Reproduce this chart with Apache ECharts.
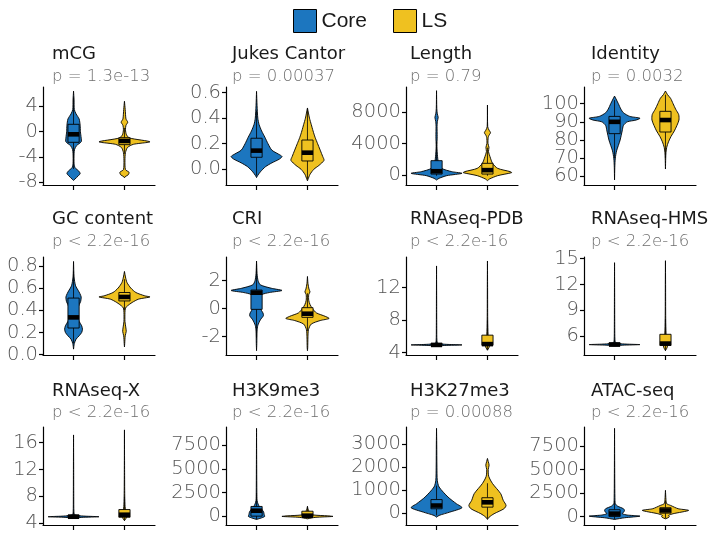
<!DOCTYPE html>
<html>
<head>
<meta charset="utf-8">
<script src="https://cdn.jsdelivr.net/npm/echarts@6/dist/echarts.min.js"></script>
<style>
  html, body { margin: 0; padding: 0; background: #fff; }
  #chart { width: 721px; height: 537px; }
</style>
</head>
<body>
<div id="chart"></div>
<script>
// panel titles and test results, row by row
const panelNames = ['mCG', 'Jukes Cantor', 'Length', 'Identity',
                    'GC content', 'CRI', 'RNAseq-PDB', 'RNAseq-HMS',
                    'RNAseq-X', 'H3K9me3', 'H3K27me3', 'ATAC-seq'];
const pLabels = ['p = 1.3e-13', 'p = 0.00037', 'p = 0.79', 'p = 0.0032',
                 'p < 2.2e-16', 'p < 2.2e-16', 'p < 2.2e-16', 'p < 2.2e-16',
                 'p < 2.2e-16', 'p < 2.2e-16', 'p = 0.00088', 'p < 2.2e-16'];
const groups = ['Core', 'LS'];

// y extents and tick labels
const yLimits = [[-8.42, 7.05], [-0.123, 0.644], [-1277, 11234], [55.2, 109.2],
                 [-0.003, 0.88], [-3.31, 3.69], [3.71, 15.76], [3.79, 15.2],
                 [3.75, 18.33], [-900, 9400], [-516, 3745], [-910, 9523]];
const yTicks = [[-8, -4, 0, 4], [0, 0.2, 0.4, 0.6], [0, 4000, 8000], [60, 70, 80, 90, 100],
                [0, 0.2, 0.4, 0.6, 0.8], [-2, 0, 2], [4, 8, 12], [6, 9, 12, 15],
                [4, 8, 12, 16], [0, 2500, 5000, 7500], [0, 1000, 2000, 3000], [0, 2500, 5000, 7500]];
const tickDecimals = [0, 1, 0, 0, 1, 0, 0, 0, 0, 0, 0, 0];

// violin outlines: [value, relative density]
const mcgCore = [[-7.7,0],[-7.5,0.05],[-7.0,0.18],[-6.6,0.26],[-6.2,0.2],[-5.7,0.06],[-5.0,0.02],[-3.5,0.02],[-2.8,0.04],[-2.2,0.12],[-1.6,0.3],[-1.0,0.3],[0,0.27],[1.0,0.26],[2.0,0.22],[2.8,0.1],[3.5,0.03],[5.0,0.02],[6.4,0]];
const mcgLS = [[-7.3,0],[-7.1,0.03],[-6.8,0.15],[-6.4,0.18],[-6.0,0.04],[-4.5,0.02],[-3.3,0.04],[-2.5,0.12],[-2.0,0.35],[-1.6,1.0],[-1.0,0.2],[-0.5,0.08],[0.3,0.04],[1.0,0.06],[1.5,0.13],[2.0,0.06],[3.5,0.03],[4.8,0]];
const jukesCore = [[-0.065,0],[-0.05,0.04],[-0.02,0.15],[0.02,0.35],[0.05,0.6],[0.08,0.9],[0.1,1.0],[0.12,0.85],[0.15,0.6],[0.2,0.45],[0.25,0.33],[0.3,0.2],[0.35,0.1],[0.4,0.05],[0.5,0.02],[0.61,0]];
const jukesLS = [[-0.09,0],[-0.08,0.02],[-0.04,0.1],[0,0.25],[0.03,0.45],[0.07,0.65],[0.1,0.6],[0.2,0.4],[0.25,0.3],[0.3,0.22],[0.35,0.15],[0.4,0.08],[0.48,0]];
const lengthCore = [[-640,0],[-425,0.1],[-85,0.4],[213,1.0],[425,0.6],[851,0.2],[1489,0.08],[2340,0.04],[3617,0.015],[4900,0.025],[6170,0.02],[6800,0.03],[7360,0.065],[7800,0.03],[8500,0.01],[10766,0]];
const lengthLS = [[-720,0],[-510,0.08],[-85,0.4],[298,0.95],[425,0.9],[851,0.4],[1489,0.2],[2340,0.1],[2979,0.04],[3532,0.06],[4042,0.02],[4800,0.03],[5063,0.06],[5404,0.12],[5744,0.06],[6170,0.01],[8935,0]];
const identityCore = [[58,0],[65,0.01],[70,0.03],[74,0.08],[77,0.15],[80,0.22],[85,0.3],[88,0.35],[90,0.5],[91,0.85],[92,1.0],[93,0.6],[95,0.35],[97,0.25],[100,0.15],[102,0.08],[104.2,0]];
const identityLS = [[64,0],[70,0.01],[73,0.02],[76,0.05],[79,0.12],[82,0.22],[85,0.35],[88,0.45],[91,0.53],[94,0.52],[97,0.4],[100,0.3],[103,0.2],[105,0.08],[107,0]];
const gcCore = [[0.05,0],[0.1,0.03],[0.14,0.1],[0.17,0.22],[0.2,0.32],[0.23,0.35],[0.26,0.32],[0.3,0.22],[0.35,0.15],[0.4,0.15],[0.45,0.22],[0.48,0.28],[0.52,0.3],[0.55,0.25],[0.58,0.18],[0.62,0.08],[0.7,0.02],[0.84,0]];
const gcLS = [[0.07,0],[0.1,0.01],[0.17,0.03],[0.21,0.07],[0.25,0.05],[0.3,0.02],[0.38,0.02],[0.42,0.04],[0.44,0.12],[0.47,0.3],[0.5,0.55],[0.52,1.0],[0.53,0.8],[0.56,0.45],[0.6,0.25],[0.65,0.1],[0.7,0.04],[0.75,0]];
const criCore = [[-3.0,0],[-2.5,0.01],[-1.6,0.02],[-1.2,0.05],[-0.8,0.15],[-0.5,0.27],[-0.3,0.25],[0,0.15],[0.3,0.1],[0.7,0.1],[1.0,0.2],[1.15,0.5],[1.3,1.0],[1.45,0.6],[1.7,0.15],[2.0,0.06],[2.5,0.02],[3.4,0]];
const criLS = [[-3.0,0],[-2.8,0.01],[-2.0,0.02],[-1.5,0.04],[-1.1,0.15],[-0.85,0.5],[-0.7,0.85],[-0.55,0.7],[-0.3,0.35],[0,0.2],[0.3,0.1],[0.6,0.05],[1.0,0.05],[1.2,0.1],[1.4,0.06],[1.8,0.02],[2.3,0]];
const pdbCore = [[4.8,0],[4.88,0.3],[4.95,1.0],[5.02,0.4],[5.15,0.05],[5.5,0.015],[7,0.008],[10,0.005],[14.66,0]];
const pdbLS = [[4.3,0],[4.45,0.03],[4.7,0.07],[5.0,0.08],[5.5,0.05],[6.2,0.025],[8,0.01],[12,0.005],[15.27,0]];
const hmsCore = [[4.85,0],[4.93,0.3],[5.0,1.0],[5.07,0.4],[5.2,0.05],[5.6,0.015],[7,0.008],[10,0.005],[14.54,0]];
const hmsLS = [[4.3,0],[4.45,0.03],[4.7,0.07],[5.0,0.08],[5.5,0.05],[6.2,0.025],[8,0.01],[12,0.005],[14.77,0]];
const rnaxCore = [[4.75,0],[4.88,0.3],[4.98,1.0],[5.08,0.4],[5.25,0.05],[5.7,0.015],[8,0.008],[12,0.005],[17.15,0]];
const rnaxLS = [[4.4,0],[4.6,0.04],[4.9,0.08],[5.3,0.08],[5.8,0.05],[6.5,0.025],[8,0.012],[12,0.005],[17.9,0]];
const k9Core = [[-317,0],[-150,0.2],[0,0.32],[200,0.3],[450,0.28],[700,0.22],[1000,0.12],[1300,0.06],[1690,0.02],[2500,0.012],[5000,0.007],[9260,0]];
const k9LS = [[-250,0],[-100,0.3],[0,1.0],[60,0.8],[150,0.25],[300,0.1],[454,0.065],[600,0.05],[800,0.02],[1056,0]];
const k27Core = [[-175,0],[-100,0.1],[44,0.52],[236,1.0],[410,0.78],[700,0.45],[1136,0.1],[1420,0.03],[2000,0.015],[3000,0.008],[3688,0]];
const k27LS = [[-275,0],[-175,0.065],[-26,0.26],[192,0.65],[336,0.73],[555,0.62],[848,0.52],[1285,0.2],[1600,0.05],[1900,0.03],[2085,0.065],[2250,0.03],[2377,0]];
const atacCore = [[-320,0],[-140,0.39],[32,1.0],[150,0.5],[300,0.3],[460,0.36],[650,0.39],[824,0.35],[1100,0.12],[1360,0.03],[2000,0.015],[4000,0.008],[9384,0]];
const atacLS = [[-250,0],[-100,0.13],[0,0.15],[107,0.12],[290,0.3],[642,0.91],[824,0.5],[1177,0.2],[1360,0.05],[1800,0.02],[2780,0]];

// boxplots: [lower whisker, q1, median, q3, upper whisker]
const coreBoxes = [[-5.9,-1.68,-0.42,1.16,5.4], [-0.05,0.094,0.146,0.243,0.46], [-100,120,480,1830,4300], [70,83.5,90,93,102],
                   [0.1,0.24,0.336,0.51,0.75], [-2.1,-0.05,1.14,1.33,3.2], [4.8,4.88,4.95,5.12,5.5], [4.85,4.92,5.0,5.2,5.6],
                   [4.75,4.85,4.98,5.22,5.7], [-300,30,600,1050,2500], [-100,190,330,590,1200], [-300,0,300,716,1700]];
const lsBoxes = [[-3.5,-2.05,-1.47,-0.95,0.6], [-0.08,0.065,0.13,0.229,0.47], [-100,120,620,1490,3500], [70,84.4,91,95.8,105],
                 [0.4,0.484,0.52,0.56,0.68], [-1.6,-0.62,-0.36,0.07,1.1], [4.3,4.9,5.05,6.15,8], [4.3,4.9,5.12,6.2,8],
                 [4.4,4.9,5.28,6.05,8], [-200,0,80,550,1056], [-250,260,470,670,1300], [-200,350,640,930,1700]];

const coreViolins = [mcgCore, jukesCore, lengthCore, identityCore, gcCore, criCore, pdbCore, hmsCore, rnaxCore, k9Core, k27Core, atacCore];
const lsViolins = [mcgLS, jukesLS, lengthLS, identityLS, gcLS, criLS, pdbLS, hmsLS, rnaxLS, k9LS, k27LS, atacLS];

const BLUE = '#1c76bf';
const YELLOW = '#efc120';
const FONT = 'DejaVu Sans';

const colLeft = [43, 226, 406, 584];
const rowTop = [87, 257, 427];
const titleY = [54, 219, 391];
const pY = [77, 242, 413];
const titleX = [52, 232, 410, 591];
const plotW = 112, plotH = 98;
const HALF = 0.5, BOX_W = 0.22;

function violinItem(profile, box, center, color) {
    return function (params, api) {
        const right = profile.map(p => api.coord([center + p[1] * HALF, p[0]]));
        const left = profile.slice().reverse().map(p => api.coord([center - p[1] * HALF, p[0]]));
        const top = api.coord([center - BOX_W / 2, box[3]]);
        const bot = api.coord([center + BOX_W / 2, box[1]]);
        const med = api.coord([center, box[2]]);
        const wLo = api.coord([center, box[0]]);
        const wHi = api.coord([center, box[4]]);
        const line = { stroke: '#000', lineWidth: 0.8 };
        return {
            type: 'group',
            children: [
                { type: 'polygon', shape: { points: right.concat(left), smooth: 0.25 },
                  style: { fill: color, stroke: '#000', lineWidth: 0.9 } },
                { type: 'line', shape: { x1: med[0], y1: top[1], x2: med[0], y2: wHi[1] }, style: line },
                { type: 'line', shape: { x1: med[0], y1: bot[1], x2: med[0], y2: wLo[1] }, style: line },
                { type: 'rect', shape: { x: top[0], y: top[1], width: bot[0] - top[0], height: Math.max(bot[1] - top[1], 0.5) },
                  style: { fill: color, stroke: '#000', lineWidth: 0.9 } },
                { type: 'rect', shape: { x: top[0], y: med[1] - 2.3, width: bot[0] - top[0], height: 4.6 },
                  style: { fill: '#000' } }
            ]
        };
    };
}

// tick labels are split over two stacked y axes so that tightly packed ones are not dropped
function yAxisFor(i, ticks, withLine) {
    return {
        gridIndex: i, type: 'value', position: 'left', min: yLimits[i][0], max: yLimits[i][1],
        axisLine: { show: withLine, onZero: false, lineStyle: { color: '#000', width: 1.2 } },
        axisTick: { show: true, customValues: ticks, length: 4, lineStyle: { color: '#000', width: 1.2 } },
        axisLabel: { customValues: ticks, formatter: v => Number(v).toFixed(tickDecimals[i]),
                     showMinLabel: true, showMaxLabel: true,
                     color: '#555', fontSize: 19.5, fontFamily: FONT, fontWeight: 200, margin: 5 },
        splitLine: { show: false }
    };
}

const grids = [], xAxes = [], yAxes = [], series = [], titles = [];
panelNames.forEach((name, i) => {
    const r = Math.floor(i / 4), c = i % 4;
    grids.push({ left: colLeft[c], top: rowTop[r], width: plotW, height: plotH });
    xAxes.push({
        gridIndex: i, type: 'value', min: 0.4, max: 2.6,
        axisLine: { onZero: false, lineStyle: { color: '#000', width: 1.2 } },
        axisTick: { customValues: [1, 2], length: 5, lineStyle: { color: '#000', width: 1.2 } },
        axisLabel: { show: false }, splitLine: { show: false }
    });
    yAxes.push(yAxisFor(i, yTicks[i].filter((t, k) => k % 2 === 0), true));
    yAxes.push(yAxisFor(i, yTicks[i].filter((t, k) => k % 2 === 1), false));
    [[coreViolins[i], coreBoxes[i], 1, BLUE, groups[0]], [lsViolins[i], lsBoxes[i], 2, YELLOW, groups[1]]]
        .forEach(([prof, box, center, color, g]) => {
            series.push({
                name: g, type: 'custom', xAxisIndex: i, yAxisIndex: 2 * i,
                itemStyle: { color: color },
                renderItem: violinItem(prof, box, center, color),
                data: [[center, box[2]]], clip: true, silent: true
            });
        });
    titles.push({ text: name, left: titleX[c], top: titleY[r] - 10, padding: 0,
                  textStyle: { fontFamily: FONT, fontSize: 18, fontWeight: 'normal', color: '#1a1a1a', lineHeight: 20 } });
    titles.push({ text: pLabels[i], left: titleX[c], top: pY[r] - 8, padding: 0,
                  textStyle: { fontFamily: FONT, fontSize: 16.5, fontWeight: 200, color: '#6e6e6e', lineHeight: 16 } });
});

const chart = echarts.init(document.getElementById('chart'), null, { renderer: 'canvas' });
chart.setOption({
    animation: false,
    backgroundColor: '#fff',
    title: titles,
    legend: {
        left: 288, top: 4, itemWidth: 23, itemHeight: 23, itemGap: 26, icon: 'rect',
        selectedMode: false,
        textStyle: { fontFamily: 'Liberation Sans', fontSize: 21, color: '#1a1a1a' },
        data: [
            { name: 'Core', itemStyle: { color: BLUE, borderColor: '#000', borderWidth: 1 } },
            { name: 'LS', itemStyle: { color: YELLOW, borderColor: '#000', borderWidth: 1 } }
        ]
    },
    grid: grids,
    xAxis: xAxes,
    yAxis: yAxes,
    series: series
});
</script>
</body>
</html>
